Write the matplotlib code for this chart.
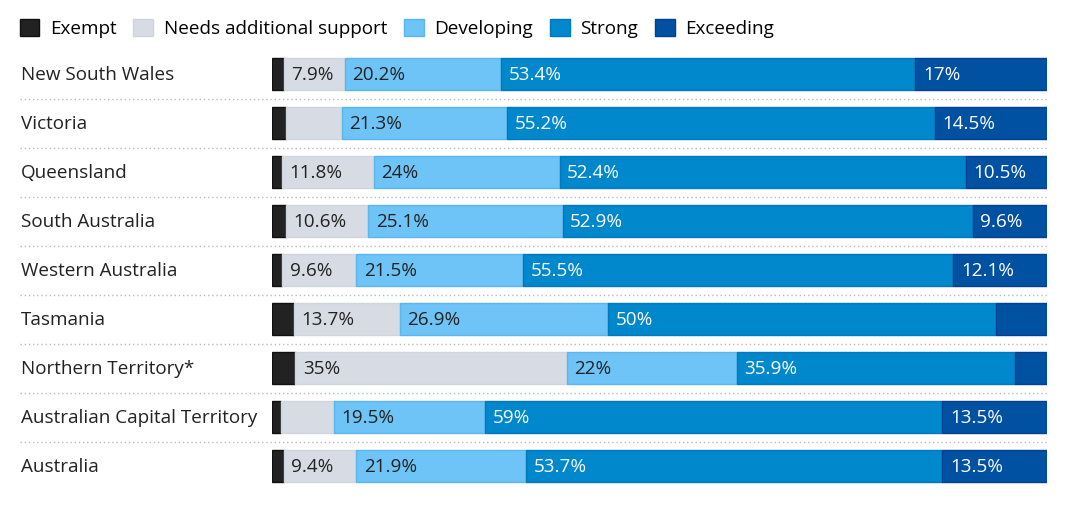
import matplotlib
matplotlib.use("Agg")
import matplotlib.pyplot as plt
from matplotlib.patches import Patch
import matplotlib.transforms as mtransforms

plt.rcParams['font.family'] = ['Open Sans', 'DejaVu Sans']

regions = ["New South Wales", "Victoria", "Queensland", "South Australia",
           "Western Australia", "Tasmania", "Northern Territory*",
           "Australian Capital Territory", "Australia"]
series = ["Exempt", "Needs additional support", "Developing", "Strong", "Exceeding"]
exempt = [1.5, 1.8, 1.3, 1.8, 1.3, 2.8, 3.0, 1.2, 1.5]
needs = [7.9, 7.2, 11.8, 10.6, 9.6, 13.7, 35.0, 6.8, 9.4]
developing = [20.2, 21.3, 24.0, 25.1, 21.5, 26.9, 22.0, 19.5, 21.9]
strong = [53.4, 55.2, 52.4, 52.9, 55.5, 50.0, 35.9, 59.0, 53.7]
exceeding = [17.0, 14.5, 10.5, 9.6, 12.1, 6.6, 4.1, 13.5, 13.5]
values = [exempt, needs, developing, strong, exceeding]

colors = ["#222222", "#d7dbe3", "#6ec3f7", "#0087cc", "#0051a2"]
edges = ["#111111", "#d0d4dc", "#5ab6ef", "#0079bd", "#003f92"]
text_colors = ["#222222", "#222222", "#222222", "white", "white"]
show_min = [100, 7.5, 7.5, 7.5, 7.5]

W, H = 1068, 505
FS = 13.6
fig = plt.figure(figsize=(W / 100, H / 100), dpi=100)
left, right = 272, 1047
top, bottom = 49.5, 490.5
ax = fig.add_axes([left / W, (H - bottom) / H, (right - left) / W, (bottom - top) / H])
ax.set_xlim(0, 100)
n = len(regions)
ax.set_ylim(n - 0.5, -0.5)
ax.axis("off")

ypos = list(range(n))
cum = [0.0] * n
for s, vals in enumerate(values):
    ax.barh(ypos, vals, left=cum, height=0.635, color=colors[s],
            edgecolor=edges[s], linewidth=1.0)
    for i, v in enumerate(vals):
        if v >= show_min[s]:
            ax.annotate(f"{v:g}%", xy=(cum[i], i), xytext=(5.5, -1),
                        textcoords="offset points", va="center", ha="left",
                        fontsize=FS, color=text_colors[s])
    cum = [c + v for c, v in zip(cum, vals)]

trans = mtransforms.blended_transform_factory(fig.transFigure, ax.transData)
for i, name in enumerate(regions):
    ax.annotate(name, xy=(21 / W, i), xycoords=trans, xytext=(0, -1),
                textcoords="offset points", va="center", ha="left",
                fontsize=FS, color="#222222")
for i in range(n - 1):
    ax.plot([20 / W, right / W], [i + 0.5, i + 0.5], transform=trans,
            clip_on=False, color="#bbbbbb", linestyle=(0, (1, 2)), linewidth=1)

handles = [Patch(facecolor=colors[s], edgecolor=edges[s], label=series[s])
           for s in range(len(series))]
fig.legend(handles=handles, loc="upper left", bbox_to_anchor=(12 / W, 1 - 11 / H),
           ncol=5, frameon=False, fontsize=FS, handlelength=1.05, handleheight=1.05,
           handletextpad=0.55, columnspacing=0.9, borderaxespad=0)

fig.savefig("out.png", dpi=100, facecolor="white")
